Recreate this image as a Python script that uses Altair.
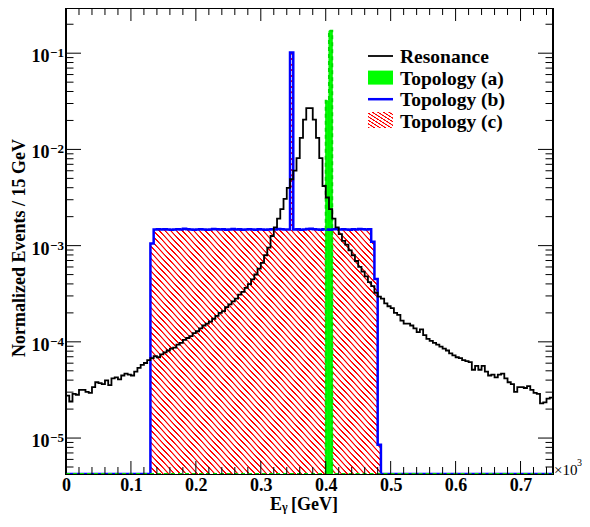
import altair as alt
import pandas as pd

# ---------------- data ----------------
BIN = 0.005          # bin width in units of 10^3 GeV
NBINS = 150
X_MAX = 0.75
YMIN, YMAX = 4.23e-6, 0.295

# Resonance: log10 of the content of each of the 150 bins (0 .. 0.75)
resonance_log10 = [
    -4.56, -4.62, -4.54, -4.55, -4.50, -4.50, -4.52, -4.53, -4.47, -4.42,
    -4.43, -4.44, -4.40, -4.45, -4.38, -4.37, -4.39, -4.35, -4.33, -4.34,
    -4.35, -4.31, -4.27, -4.24, -4.22, -4.19,
    -4.17, -4.15, -4.16, -4.13, -4.11, -4.09, -4.07, -4.06, -4.03, -4.01,
    -3.98, -3.96, -3.94, -3.91, -3.89, -3.86, -3.83, -3.81, -3.79, -3.76,
    -3.73, -3.70, -3.68, -3.64, -3.61, -3.58, -3.55, -3.51, -3.48, -3.44,
    -3.40, -3.35, -3.30, -3.24, -3.18, -3.10, -3.02, -2.90, -2.81, -2.72,
    -2.62, -2.515, -2.40,
    -2.31, -2.22, -2.09, -1.88, -1.69, -1.57, -1.57, -1.69, -1.88, -2.09,
    -2.38, -2.50, -2.62, -2.72, -2.81, -2.88,
    -2.95, -2.99, -3.05, -3.10, -3.16, -3.22, -3.27, -3.32, -3.38, -3.42,
    -3.49, -3.53, -3.55, -3.60, -3.63, -3.65, -3.70, -3.72, -3.78, -3.81,
    -3.81, -3.83, -3.86, -3.90, -3.87, -3.93, -3.97, -3.99, -4.01, -4.03,
    -4.05, -4.07, -4.09, -4.12, -4.14, -4.16, -4.17, -4.19, -4.20, -4.21,
    -4.29, -4.25, -4.29, -4.25, -4.31, -4.35, -4.34, -4.37, -4.34, -4.33,
    -4.38, -4.42, -4.44, -4.52, -4.47, -4.47, -4.48, -4.46, -4.50, -4.53,
    -4.54, -4.64, -4.63, -4.59, -4.58,
]

# Topology (a): two non-empty bins
topo_a_left = [0.400, 0.405]
topo_a_vals = [0.032, 0.171]

# Topology (b): non-empty bins start at 0.13
topo_b_start_bin = 26
topo_b_vals = (
    [1.05e-3]
    + [v * 1e-3 for v in [
        1.47, 1.48, 1.47, 1.48, 1.47, 1.46, 1.47, 1.48, 1.47, 1.50,
        1.48, 1.47, 1.46, 1.47, 1.48, 1.47, 1.46, 1.47, 1.49, 1.48,
        1.47, 1.48, 1.46, 1.47, 1.49, 1.47, 1.48, 1.46, 1.47, 1.48,
        1.47, 1.46, 1.48, 1.47, 1.46, 1.47, 1.48, 1.47, 1.49, 1.48,
        1.47, 1.47]]
    + [0.102]
    + [v * 1e-3 for v in [
        1.47, 1.48, 1.46, 1.47, 1.49, 1.50, 1.48, 1.47, 1.46, 1.48,
        1.47, 1.46, 1.48, 1.49, 1.47, 1.48, 1.47, 1.46, 1.48, 1.47,
        1.49, 1.48, 1.47, 1.48]]
    + [1.1e-3, 4.5e-4, 8.5e-6]
)
# Topology (c) coincides with (b)
topo_c_start_bin = 26
topo_c_vals = list(topo_b_vals)

legend_labels = ["Resonance", "Topology (a)", "Topology (b)", "Topology (c)"]

y_major = [1e-5, 1e-4, 1e-3, 1e-2, 1e-1]
y_exp_text = ["\u22125", "\u22124", "\u22123", "\u22122", "\u22121"]
y_minor = [m * 10.0 ** e for e in range(-6, 0) for m in range(2, 10)
           if YMIN < m * 10.0 ** e < YMAX]
x_major = [0, 0.1, 0.2, 0.3, 0.4, 0.5, 0.6, 0.7]
x_minor = [round(0.02 * i, 2) for i in range(1, 38) if i % 5 != 0]

# ---------------- helpers ----------------
W, H = 487, 466
SERIF = "Liberation Serif, Times New Roman, serif"
edges = [round(i * BIN, 4) for i in range(NBINS + 1)]

XAX = alt.Axis(values=x_major, format="~g", ticks=False, domain=False, grid=False,
               labelFont=SERIF, labelFontWeight="bold", labelFontSize=18,
               labelColor="black", labelPadding=2, labelFlush=False,
               labelOverlap=False, title=None)


def X(f):
    return alt.X(f"{f}:Q", scale=alt.Scale(domain=[0, X_MAX], nice=False, zero=False), axis=XAX)


def Y(f):
    return alt.Y(f"{f}:Q", scale=alt.Scale(type="log", domain=[YMIN, YMAX], nice=False), axis=None)


def full_bins(start, vals):
    out = [YMIN] * NBINS
    for i, v in enumerate(vals):
        out[start + i] = v
    return out


def step_df(vals, start=0):
    xs = edges[start:start + len(vals)] + [edges[start + len(vals)]]
    return pd.DataFrame({"x": xs, "v": list(vals) + [vals[-1]], "base": YMIN})


def stripes(n, core, ramp, x1, y1, x2, y2):
    """Red hatch lines on white, as a repeated linear gradient."""
    stops = []
    p = 1.0 / n
    for i in range(n):
        a = i * p
        pts = [(a, "#ffffff"), (a + ramp * p, "#ff0000"), (a + (ramp + core) * p, "#ff0000"),
               (a + (2 * ramp + core) * p, "#ffffff")]
        for o, c in pts:
            stops.append(alt.GradientStop(color=c, offset=min(1.0, round(o, 6))))
    stops.append(alt.GradientStop(color="#ffffff", offset=1.0))
    return alt.LinearGradient(gradient="linear", stops=stops, x1=x1, y1=y1, x2=x2, y2=y2)


# ---------------- layers ----------------
layers = []

# Topology (c): hatched area (spike bin capped to its neighbours' level)
spike_i = max(range(len(topo_c_vals)), key=lambda i: topo_c_vals[i])
spike_base = max(topo_c_vals[spike_i - 1], topo_c_vals[spike_i + 1])
area_vals = list(topo_c_vals)
area_vals[spike_i] = spike_base
hatch_df = step_df(area_vals, topo_c_start_bin)
layers.append(alt.Chart(hatch_df).mark_area(
    interpolate="step-after", fill=stripes(80, 0.2, 0.1, 0, 1, 1, 0), opacity=1, clip=True
).encode(x=X("x"), y=Y("v"), y2=alt.Y2("base")))

spike_df = pd.DataFrame({"x": [edges[topo_c_start_bin + spike_i]],
                         "x2": [edges[topo_c_start_bin + spike_i + 1]],
                         "v": [topo_c_vals[spike_i]], "base": [spike_base]})
layers.append(alt.Chart(spike_df).mark_rect(fill=stripes(32, 0.25, 0.1, 0, 0, 0, 1), clip=True).encode(
    x=X("x"), x2=alt.X2("x2"), y=Y("v"), y2=alt.Y2("base")))

# Topology (a): green filled bins
green_df = pd.DataFrame({"x": topo_a_left, "x2": [round(v + BIN, 4) for v in topo_a_left],
                         "v": topo_a_vals, "base": YMIN})
layers.append(alt.Chart(green_df).mark_rect(color="#00ff00", stroke="#00ee00", strokeWidth=1, clip=True).encode(
    x=X("x"), x2=alt.X2("x2"), y=Y("v"), y2=alt.Y2("base")))

# Topology (b): blue step line over all bins
blue_df = step_df(full_bins(topo_b_start_bin, topo_b_vals))
layers.append(alt.Chart(blue_df).mark_line(interpolate="step-after", color="#0000ff",
                                           strokeWidth=2.5, clip=True).encode(x=X("x"), y=Y("v")))

# green outline along the axis
ga = [YMIN] * NBINS
for xl, v in zip(topo_a_left, topo_a_vals):
    ga[int(round(xl / BIN))] = v
layers.append(alt.Chart(step_df(ga)).mark_line(interpolate="step-after", color="#00dd00",
                                               strokeWidth=2, strokeDash=[4, 3], clip=True).encode(x=X("x"), y=Y("v")))

# Resonance: black step line
res_vals = [10.0 ** v for v in resonance_log10]
layers.append(alt.Chart(step_df(res_vals)).mark_line(interpolate="step-after", color="black",
                                                     strokeWidth=1.8, clip=True).encode(x=X("x"), y=Y("v")))

# ---------------- ticks (inside the frame, ROOT style) ----------------
ymaj_df = pd.DataFrame({"v": y_major, "e": y_exp_text})
ymin_df = pd.DataFrame({"v": y_minor})
xmaj_df = pd.DataFrame({"v": x_major})
xmin_df = pd.DataFrame({"v": x_minor})
for df, ln in [(ymaj_df, 15), (ymin_df, 7.5)]:
    layers.append(alt.Chart(df).mark_rule(color="black", strokeWidth=1).encode(
        y=Y("v"), x=alt.value(0), x2=alt.value(ln)))
    layers.append(alt.Chart(df).mark_rule(color="black", strokeWidth=1).encode(
        y=Y("v"), x=alt.value(W - ln), x2=alt.value(W)))
for df, ln in [(xmaj_df, 13), (xmin_df, 7)]:
    layers.append(alt.Chart(df).mark_rule(color="black", strokeWidth=1).encode(
        x=X("v"), y=alt.value(H - ln), y2=alt.value(H)))
    layers.append(alt.Chart(df).mark_rule(color="black", strokeWidth=1).encode(
        x=X("v"), y=alt.value(0), y2=alt.value(ln)))

# y tick labels 10^{-n}
layers.append(alt.Chart(ymaj_df).mark_text(font=SERIF, fontWeight="bold", fontSize=18, align="right",
                                           baseline="alphabetic", dy=9, color="black").encode(
    y=Y("v"), x=alt.value(-16.5), text=alt.value("10")))
layers.append(alt.Chart(ymaj_df).mark_text(font=SERIF, fontWeight="bold", fontSize=13, align="left",
                                           baseline="alphabetic", dy=4, color="black").encode(
    y=Y("v"), x=alt.value(-16), text="e:N"))

# ---------------- titles ----------------
one = pd.DataFrame({"k": [0]})
layers.append(alt.Chart(one).mark_text(font=SERIF, fontWeight="bold", fontSize=18, angle=270,
                                       align="center", baseline="alphabetic", color="black").encode(
    x=alt.value(-41), y=alt.value(240), text=alt.value("Normalized Events / 15 GeV")))
TY = H + 36
layers.append(alt.Chart(one).mark_text(font=SERIF, fontWeight="bold", fontSize=18, align="left",
                                       baseline="alphabetic", color="black").encode(
    x=alt.value(204), y=alt.value(TY), text=alt.value("E")))
layers.append(alt.Chart(one).mark_text(font=SERIF, fontWeight="bold", fontSize=12, align="left",
                                       baseline="alphabetic", color="black").encode(
    x=alt.value(216), y=alt.value(TY + 1), text=alt.value("\u03b3")))
layers.append(alt.Chart(one).mark_text(font=SERIF, fontWeight="bold", fontSize=18, align="left",
                                       baseline="alphabetic", color="black").encode(
    x=alt.value(225), y=alt.value(TY), text=alt.value("[GeV]")))
layers.append(alt.Chart(one).mark_text(font=SERIF, fontSize=15, align="left",
                                       baseline="alphabetic", color="black").encode(
    x=alt.value(W + 1), y=alt.value(H + 0.5), text=alt.value("\u00d710")))
layers.append(alt.Chart(one).mark_text(font=SERIF, fontSize=10, align="left",
                                       baseline="alphabetic", color="black").encode(
    x=alt.value(W + 24), y=alt.value(H - 8), text=alt.value("3")))

# ---------------- legend ----------------
LX0, LX1, TX = 302, 327, 334
rows_base = [55, 76.6, 98.2, 119.8]
for lab, yb in zip(legend_labels, rows_base):
    layers.append(alt.Chart(one).mark_text(font=SERIF, fontWeight="bold", fontSize=19.5, align="left",
                                           baseline="alphabetic", color="black").encode(
        x=alt.value(TX), y=alt.value(yb), text=alt.value(lab)))
layers.append(alt.Chart(one).mark_rule(color="black", strokeWidth=1.8).encode(
    x=alt.value(LX0), x2=alt.value(LX1), y=alt.value(48)))
layers.append(alt.Chart(one).mark_rect(color="#00ff00").encode(
    x=alt.value(LX0), x2=alt.value(LX1), y=alt.value(62.6), y2=alt.value(76.6)))
layers.append(alt.Chart(one).mark_rule(color="#0000ff", strokeWidth=2.5).encode(
    x=alt.value(LX0), x2=alt.value(LX1), y=alt.value(91.2)))
layers.append(alt.Chart(one).mark_rect(fill=stripes(9, 0.25, 0.1, 0, 1, 1, 0)).encode(
    x=alt.value(LX0), x2=alt.value(LX1), y=alt.value(104), y2=alt.value(120)))

chart = alt.layer(*layers).properties(
    width=W, height=H,
    autosize=alt.AutoSizeParams(type="none"),
    padding={"left": 58, "top": 0, "right": 29, "bottom": 40},
    background="white",
).configure_view(stroke="black", strokeWidth=2)

chart.save("out.html", embed_options={"renderer": "svg", "actions": False})
